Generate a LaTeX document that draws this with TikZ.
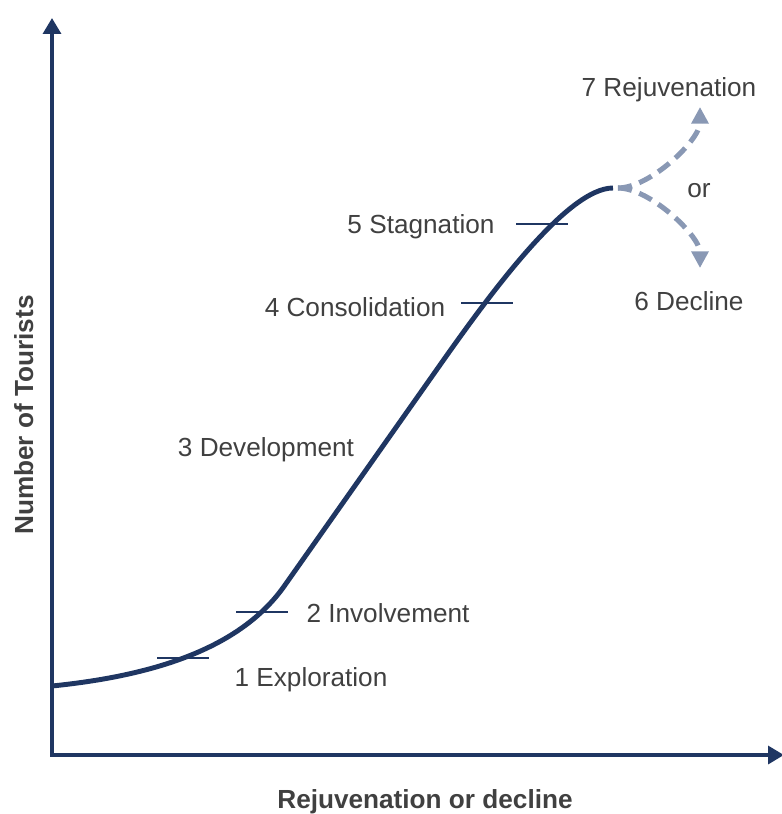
\documentclass[tikz,border=0pt]{standalone}
\usepackage{fontspec}
\setmainfont{Liberation Sans}
\usetikzlibrary{arrows.meta}
\definecolor{navy}{RGB}{31,54,98}
\definecolor{paleblue}{RGB}{137,152,180}
\definecolor{textgray}{RGB}{64,64,64}

\begin{document}
\begin{tikzpicture}[x=0.02cm,y=-0.02cm,
	stage/.style={anchor=base,inner sep=0pt,text=textgray,font=\fontsize{14.9}{18}\selectfont},
	axislabel/.style={anchor=base,inner sep=0pt,text=textgray,font=\fontsize{14.9}{18}\selectfont\bfseries},
	axis/.style={navy,line width=2.3pt,line join=miter,{Triangle[length=9pt,width=10pt]}-{Triangle[length=9pt,width=10pt]}},
	lifecurve/.style={navy,line width=2.8pt},
	tick/.style={navy,line width=1.2pt},
	option/.style={paleblue,line width=2.9pt,dash pattern=on 8pt off 4.5pt,-{Triangle[length=9.5pt,width=9.5pt]}}]
			\useasboundingbox (0,0) rectangle (781,814);
			\coordinate (ytop)   at (52,18);
			\coordinate (origin) at (52,755);
			\coordinate (xend)   at (784,755);
			\draw[axis] (ytop) -- (origin) -- (xend);
			\coordinate (start) at (52,686);
			\coordinate (bend1) at (285,585);
			\coordinate (bend2) at (440,365);
			\coordinate (peak)  at (613,188);
			\coordinate (fork)  at (618,188);
			\coordinate (up)    at (700,107);
			\coordinate (down)  at (700,268);
			\draw[lifecurve] (start) .. controls (150,676) and (240,650) .. (bend1)
				-- (bend2) .. controls (492,291) and (568,188) .. (peak);
			\foreach \x/\y in {183/658, 262/612, 487/303, 542/224}
				\draw[tick] (\x-26,\y) -- (\x+26,\y);
			\draw[option] (fork) .. controls (650,188) and (700,140) .. (up);
			\draw[option] (fork) .. controls (650,188) and (700,236) .. (down);
			\node[stage]  at (311,686)  (s1) {1 Exploration};
			\node[stage]  at (388,622)  (s2) {2 Involvement};
			\node[stage]  at (266,456)  (s3) {3 Development};
			\node[stage]  at (355,316)  (s4) {4 Consolidation};
			\node[stage]  at (421,234)  (s5) {5 Stagnation};
			\node[stage]  at (689,310)  (s6) {6 Decline};
			\node[stage]  at (669,97)   (s7) {7 Rejuvenation};
			\node[stage]  at (699,197)  (or) {or};
			\node[axislabel]  at (425,808)  (xlab) {Rejuvenation or decline};
			\node[axislabel,rotate=90]  at (33,415)  (ylab) {Number of Tourists};
		\end{tikzpicture}
\end{document}
